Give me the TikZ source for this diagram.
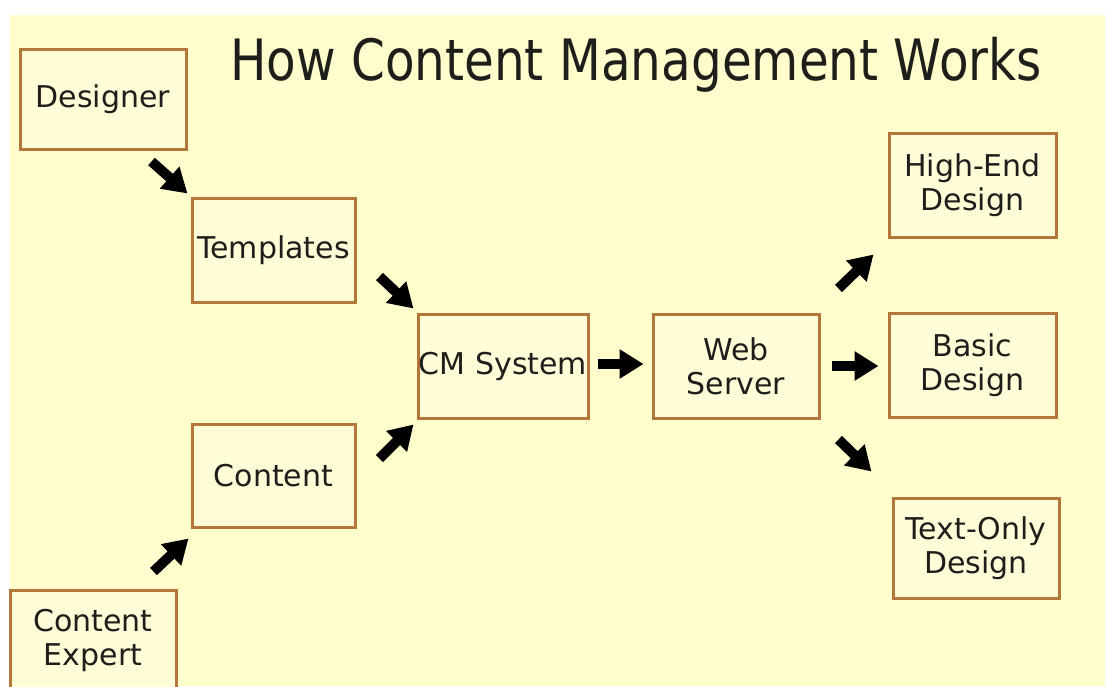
\documentclass[tikz,border=0pt]{standalone}
\usepackage{fontspec}
\setmainfont{DejaVu Sans}
\usetikzlibrary{arrows.meta}
\definecolor{bgyellow}{HTML}{FFFDCC}
\definecolor{boxfill}{HTML}{FFFDD8}
\definecolor{boxline}{HTML}{B5763A}
\definecolor{inkc}{HTML}{1E1E1A}
\tikzset{
  cmbox/.style={draw=boxline, fill=boxfill, line width=3pt, inner sep=0pt,
    text=inkc, align=center, font=\fontsize{30}{34}\selectfont},
  blockarrow/.style={draw=black, line width=10pt,
    -{Triangle[length=24pt,width=28pt]}}
}
\begin{document}
\begin{tikzpicture}[x=1pt,y=-1pt]
\useasboundingbox (0,0) rectangle (1105,686);
\fill[white] (0,0) rectangle (1105,686);
\fill[bgyellow] (10,15) rectangle (1105,686);

\node[text=inkc, anchor=base] (title) at (636,80)
  {\scalebox{0.85}[1]{\fontsize{57}{60}\selectfont How Content Management Works}};

\node[cmbox, minimum width=166pt, minimum height=100pt] (designer) at (103,99) {Designer};
\node[cmbox, minimum width=163pt, minimum height=104pt] (templates) at (273.5,250) {Templates};
\node[cmbox, minimum width=163pt, minimum height=103pt] (content) at (273.5,475.5) {Content};
\node[cmbox, minimum width=166pt, minimum height=100pt] (expert) at (93,640) {Content\\Expert};
\node[cmbox, minimum width=170pt, minimum height=104pt] (cms) at (503,366) {CM System};
\node[cmbox, minimum width=166pt, minimum height=104pt] (web) at (736,366) {Web\\Server};
\node[cmbox, minimum width=167pt, minimum height=104pt] (highend) at (972.5,185) {High-End\\Design};
\node[cmbox, minimum width=167pt, minimum height=104pt] (basic) at (972.5,365) {Basic\\Design};
\node[cmbox, minimum width=166pt, minimum height=100pt] (textonly) at (976,548) {Text-Only\\Design};

\draw[blockarrow] ([shift={(-36,11)}]designer.south east) -- ([shift={(-3,-3)}]templates.north west);
\draw[blockarrow] ([shift={(23,-27)}]templates.south east) -- ([shift={(-3,-4)}]cms.north west);
\draw[blockarrow] ([shift={(23,36)}]content.north east) -- ([shift={(-3,5)}]cms.south west);
\draw[blockarrow] ([shift={(-24,-17)}]expert.north east) -- ([shift={(-2,10)}]content.south west);
\draw[blockarrow] ([shift={(8,-2)}]cms.east) -- ([shift={(-8,-2)}]web.west);
\draw[blockarrow] ([shift={(18,-24)}]web.north east) -- ([shift={(-14,16)}]highend.south west);
\draw[blockarrow] ([shift={(11,0)}]web.east) -- ([shift={(-9,1)}]basic.west);
\draw[blockarrow] ([shift={(18,20)}]web.south east) -- ([shift={(-20,-25)}]textonly.north west);
\end{tikzpicture}
\end{document}
